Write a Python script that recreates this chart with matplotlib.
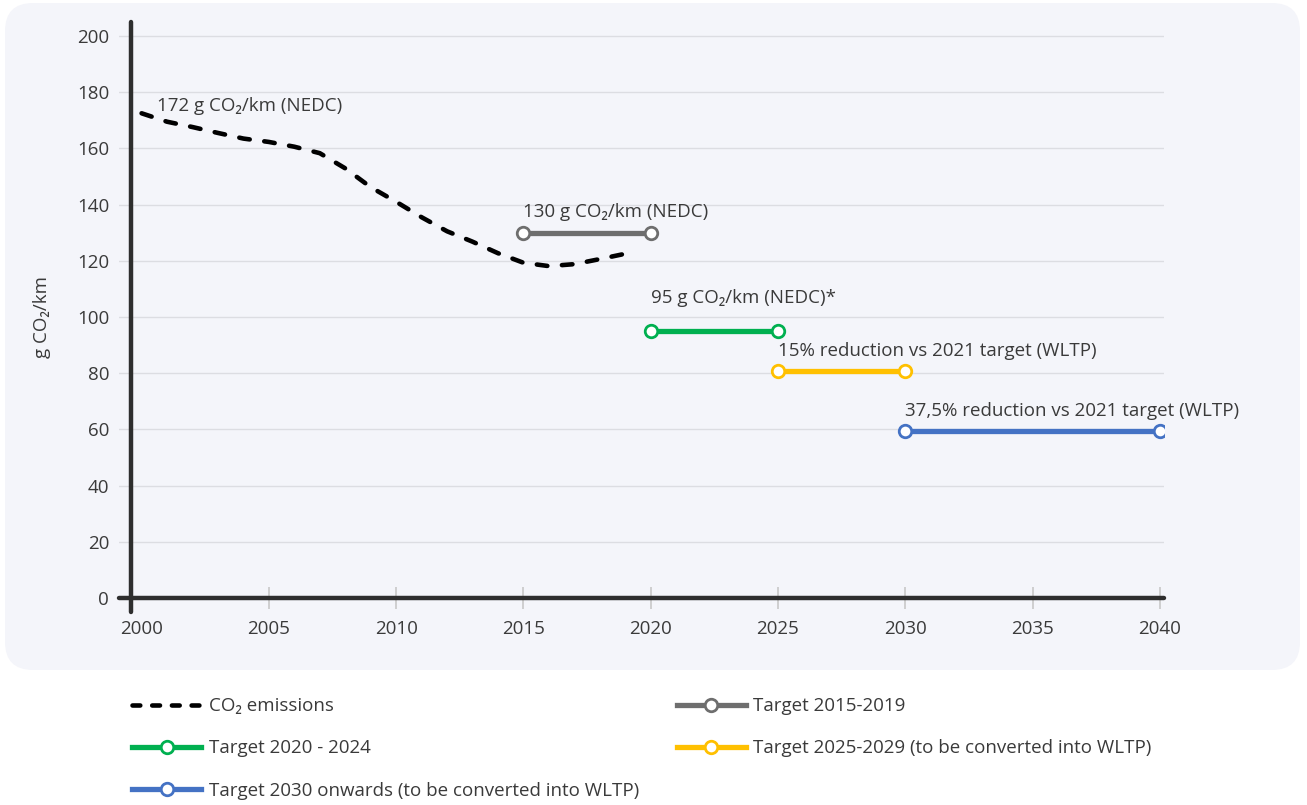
import matplotlib
matplotlib.use('Agg')
import matplotlib.pyplot as plt
from matplotlib.lines import Line2D
from matplotlib.patches import FancyBboxPatch

plt.rcParams['font.family'] = ['Open Sans', 'DejaVu Sans']

# average new-car emissions, g CO2/km
years = [2000, 2001, 2002, 2003, 2004, 2005, 2006, 2007, 2008, 2009,
         2010, 2011, 2012, 2013, 2014, 2015, 2016, 2017, 2018, 2019]
emissions = [172.5, 169.5, 167.6, 165.5, 163.5, 162.3, 160.6, 158.3, 152.9, 146.2,
             141.0, 135.5, 130.5, 126.8, 122.7, 119.3, 118.1, 118.8, 120.6, 122.5]

# targets
target_names = ['Target 2015-2019', 'Target 2020 - 2024',
                'Target 2025-2029 (to be converted into WLTP)',
                'Target 2030 onwards (to be converted into WLTP)']
target_start = [2015, 2020, 2025, 2030]
target_end = [2020, 2025, 2030, 2040]
target_value = [130, 95, 80.7, 59.4]
target_labels = ['130 g CO₂/km (NEDC)', '95 g CO₂/km (NEDC)*',
                 '15% reduction vs 2021 target (WLTP)',
                 '37,5% reduction vs 2021 target (WLTP)']
label_offset = [4.0, 8.5, 4.0, 4.0]
target_colors = ['#6e6e6e', '#00b050', '#ffc000', '#4472c4']

txt = '#3a3a3a'
fs = 13.5

fig = plt.figure(figsize=(13.07, 8.05), dpi=100)
fig.patch.set_facecolor('white')
panel = FancyBboxPatch((0.05, 1.35), 12.95, 6.67,
                       boxstyle='round,pad=0,rounding_size=0.28',
                       transform=fig.dpi_scale_trans, facecolor='#f4f5fa',
                       edgecolor='none', zorder=-1)
fig.add_artist(panel)

ax = fig.add_axes([0.0910, 0.2398, 0.7995, 0.7329])
ax.set_facecolor('none')
ax.set_xlim(1999.11, 2040.16)
ax.set_ylim(-5, 205)

for y in range(20, 201, 20):
    ax.axhline(y, color='#dcdde2', lw=1, zorder=0)

ax.plot(years, emissions, color='black', lw=3.3, dashes=(2.3, 3.2),
        dash_capstyle='round', zorder=3)
ax.text(2000.6, 172, '172 g CO₂/km (NEDC)', fontsize=fs, color=txt,
        va='bottom', ha='left')

for s, e, v, c, lab, off in zip(target_start, target_end, target_value,
                                target_colors, target_labels, label_offset):
    ax.plot([s, e], [v, v], color=c, lw=3.8, marker='o', markersize=9,
            markerfacecolor='white', markeredgecolor=c, markeredgewidth=2,
            zorder=4)
    ax.text(s, v + off, lab, fontsize=fs, color=txt, ha='left', va='bottom')

for side in ['top', 'right']:
    ax.spines[side].set_visible(False)
ax.spines['left'].set_position(('data', 1999.6))
ax.spines['bottom'].set_position(('data', 0))
for side in ['left', 'bottom']:
    ax.spines[side].set_linewidth(3.2)
    ax.spines[side].set_color('#2e2e2e')
    ax.spines[side].set_capstyle('round')
    ax.spines[side].set_zorder(5)

ax.set_yticks(range(0, 201, 20))
ax.set_xticks(range(2000, 2041, 5))
ax.tick_params(axis='y', length=0, pad=16, labelsize=fs, labelcolor=txt)
ax.tick_params(axis='x', direction='inout', length=16, width=1.2,
               color='#c8c8c8', pad=8, labelsize=fs, labelcolor=txt)
ax.xaxis.get_major_ticks()[0].tick1line.set_visible(False)
ax.set_ylabel('g CO₂/km', fontsize=fs, color=txt, labelpad=19)

handles = [Line2D([], [], color='black', lw=3.3, dashes=(1.7, 2.6),
                  dash_capstyle='round')]
for c in target_colors:
    handles.append(Line2D([], [], color=c, lw=3.8, marker='o', markersize=9,
                          markerfacecolor='white', markeredgecolor=c,
                          markeredgewidth=2))
names = ['CO₂ emissions'] + target_names
order = [0, 2, 4, 1, 3]
fig.legend([handles[i] for i in order], [names[i] for i in order],
           ncol=2, loc='upper left', bbox_to_anchor=(0.088, 0.155),
           frameon=False, fontsize=fs, handlelength=3.7, handletextpad=0.4,
           labelspacing=1.3, columnspacing=2.0, labelcolor=txt)

fig.savefig('out.png', dpi=100, facecolor='white')
